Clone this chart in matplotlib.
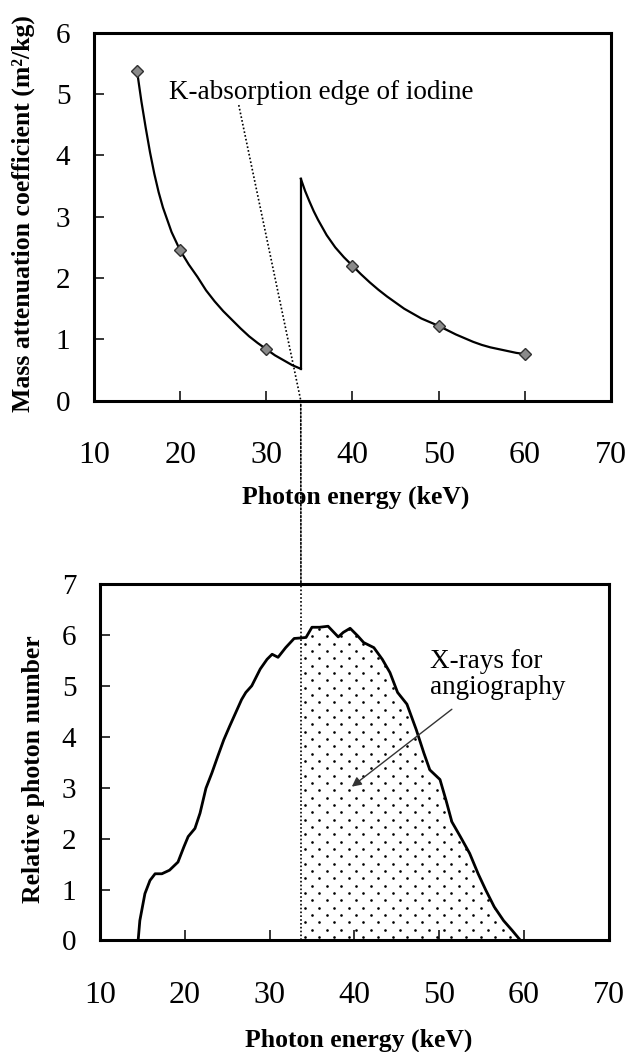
import matplotlib
matplotlib.use("Agg")
import matplotlib.pyplot as plt
from matplotlib.patches import ConnectionPatch
import numpy as np

plt.rcParams['font.family'] = ['Liberation Serif', 'DejaVu Serif']

# ---------------- data: top panel (mass attenuation coefficient of iodine) ----------------
marker_energy = [15, 20, 30, 40, 50, 60]
marker_mu = [5.37, 2.45, 0.84, 2.20, 1.22, 0.76]

below_edge_energy = [15.0, 15.5, 16.0, 16.5, 17.0, 17.5, 18.0, 19.0, 20.0, 21.0, 22.0, 23.0, 24.0,
                     25.0, 26.0, 27.0, 28.0, 29.0, 30.0, 31.0, 32.0, 33.0, 34.0]
below_edge_mu = [5.37, 4.88, 4.45, 4.05, 3.70, 3.40, 3.15, 2.75, 2.45, 2.22, 2.02, 1.80, 1.62,
                 1.46, 1.32, 1.18, 1.05, 0.94, 0.84, 0.74, 0.66, 0.58, 0.52]

above_edge_energy = [34.0, 34.5, 35.0, 35.5, 36.0, 37.0, 38.0, 39.0, 40.0, 41.0, 42.0, 43.0, 44.0,
                     45.0, 46.0, 47.0, 48.0, 49.0, 50.0, 51.0, 52.0, 53.0, 54.0, 55.0, 56.0, 57.0,
                     58.0, 59.0, 60.0]
above_edge_mu = [3.62, 3.42, 3.25, 3.09, 2.95, 2.70, 2.50, 2.34, 2.20, 2.06, 1.93, 1.81, 1.70,
                 1.60, 1.50, 1.42, 1.34, 1.28, 1.22, 1.15, 1.08, 1.02, 0.96, 0.91, 0.87, 0.84,
                 0.81, 0.78, 0.76]

k_edge_top = 34.0
label_anchor = (26.8, 4.82)

# ---------------- data: bottom panel (X-ray spectrum) ----------------
spec_energy = [14.5, 14.7, 15.3, 15.9, 16.5, 17.3, 18.2, 19.2, 19.9, 20.4, 21.2, 21.8, 22.5, 23.2,
               23.9, 24.6, 25.3, 26.0, 26.7, 27.2, 27.9, 28.9, 29.7, 30.3, 31.0, 31.9, 32.9, 33.7,
               34.3, 35.0, 35.9, 36.9, 38.1, 38.7, 39.5, 40.4, 41.1, 42.3, 43.3, 44.2, 45.1, 46.2,
               47.3, 48.2, 48.9, 50.1, 50.8, 51.5, 52.5, 53.6, 54.6, 55.5, 56.5, 57.6, 58.6, 59.6]
spec_count = [0.0, 0.39, 0.92, 1.18, 1.31, 1.31, 1.38, 1.54, 1.84, 2.04, 2.20, 2.50, 2.99, 3.29,
              3.62, 3.94, 4.21, 4.47, 4.73, 4.87, 5.00, 5.33, 5.52, 5.62, 5.56, 5.75, 5.93, 5.94,
              5.95, 6.15, 6.15, 6.17, 5.96, 6.05, 6.13, 5.98, 5.85, 5.75, 5.52, 5.26, 4.87, 4.64,
              4.14, 3.68, 3.35, 3.16, 2.76, 2.33, 2.04, 1.71, 1.31, 0.99, 0.66, 0.39, 0.20, 0.0]
k_edge_bottom = 33.7

x_ticks = [10, 20, 30, 40, 50, 60, 70]
top_y_ticks = [0, 1, 2, 3, 4, 5, 6]
bottom_y_ticks = [0, 1, 2, 3, 4, 5, 6, 7]

# ---------------- figure ----------------
fig = plt.figure(figsize=(6.28, 10.52), dpi=100)
ax1 = fig.add_axes([0.1497, 0.6191, 0.8232, 0.3498])
ax2 = fig.add_axes([0.1592, 0.1060, 0.8101, 0.3389])

def style(ax, yticks, ylim):
    ax.set_xlim(10, 70)
    ax.set_ylim(*ylim)
    ax.set_xticks(x_ticks)
    ax.set_yticks(yticks)
    for s in ax.spines.values():
        s.set_linewidth(2.2)
    ax.tick_params(axis='both', direction='in', length=7, width=1.1)
    ax.tick_params(axis='x', labelsize=23, pad=29)
    ax.tick_params(axis='y', labelsize=21, pad=17)

style(ax1, top_y_ticks, (0, 6))
style(ax2, bottom_y_ticks, (0, 7))

# top panel
ax1.plot(below_edge_energy, below_edge_mu, color='black', lw=1.6, zorder=3)
ax1.plot(above_edge_energy, above_edge_mu, color='black', lw=1.6, zorder=3)
ax1.plot([k_edge_top, k_edge_top], [below_edge_mu[-1], above_edge_mu[0]], color='black', lw=1.6, zorder=3)
ax1.plot(marker_energy, marker_mu, linestyle='none', marker='D', markersize=6.5,
         markerfacecolor='#8a8a8a', markeredgecolor='#303030', markeredgewidth=1.0, zorder=4)

ax1.text(18.7, 5.02, 'K-absorption edge of iodine', fontsize=19.5, ha='left', va='center')
ax1.plot([label_anchor[0], k_edge_top], [label_anchor[1], 0], color='black', lw=1.2,
         linestyle=(0, (1, 1.3)), zorder=2, clip_on=False)

ax1.set_xlabel('Photon energy (keV)', fontsize=18.5, fontweight='bold')
ax1.xaxis.set_label_coords(0.507, -0.262)
ax1.xaxis.label.set_va('center')
ax1.set_ylabel('Mass attenuation coefficient (m\u00b2/kg)', fontsize=18.5, fontweight='bold')
ax1.yaxis.set_label_coords(-0.137, 0.509)
ax1.yaxis.label.set_va('center')

# bottom panel
ax2.plot(spec_energy, spec_count, color='black', lw=2.0, zorder=3)
i0 = spec_energy.index(k_edge_bottom)
region = ax2.fill_between(spec_energy[i0:], spec_count[i0:], 0, facecolor='none',
                          edgecolor='none', linewidth=0, zorder=1)

# stippled texture (staggered dot screen) clipped to the shaded region
col_step, row_step = 1.73, 0.144
rows = np.arange(0.07, 7.0, row_step)
gx, gy = [], []
for j, yy in enumerate(rows):
    xs = np.arange(k_edge_bottom + 0.45 + (j % 2) * col_step / 2, 62, col_step)
    gx.extend(xs)
    gy.extend([yy] * len(xs))
dots = ax2.scatter(gx, gy, s=3.6, color='black', linewidths=0, zorder=1)
dots.set_clip_path(region.get_paths()[0], ax2.transData)

ax2.plot([k_edge_bottom, k_edge_bottom], [0, 7], color='black', lw=1.2,
         linestyle=(0, (1, 1.3)), zorder=2)

con = ConnectionPatch(xyA=(k_edge_top, 0), coordsA=ax1.transData,
                      xyB=(k_edge_bottom, 7), coordsB=ax2.transData,
                      color='black', lw=1.2, linestyle=(0, (1, 1.3)))
fig.add_artist(con)

ax2.text(48.9, 5.22, 'X-rays for\nangiography', fontsize=19.5, ha='left', va='center',
         linespacing=1.05)
ax2.annotate('', xy=(39.7, 3.02), xytext=(51.5, 4.54),
             arrowprops=dict(arrowstyle='-|>', color='#333333', lw=1.0,
                             mutation_scale=14, shrinkA=0, shrinkB=0))

ax2.set_xlabel('Photon energy (keV)', fontsize=18.5, fontweight='bold')
ax2.xaxis.set_label_coords(0.508, -0.279)
ax2.xaxis.label.set_va('center')
ax2.set_ylabel('Relative photon number', fontsize=18.5, fontweight='bold')
ax2.yaxis.set_label_coords(-0.130, 0.481)
ax2.yaxis.label.set_va('center')

fig.savefig('out.png', dpi=100, facecolor='white')
